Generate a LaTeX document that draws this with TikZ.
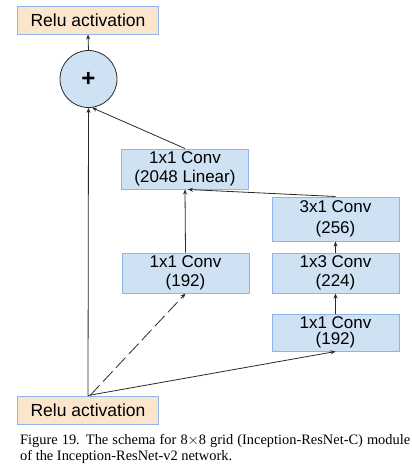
\documentclass[tikz,border=0pt]{standalone}
\usepackage{fontspec}
\setmainfont{Liberation Sans}
\newfontfamily\capfont{Liberation Serif}
\usetikzlibrary{arrows.meta}
\definecolor{boxblue}{HTML}{CFE2F3}
\definecolor{boxedge}{HTML}{8FB4EC}
\definecolor{peach}{HTML}{FCE5CD}
\definecolor{linegray}{HTML}{2A2A2A}
\tikzset{
  convbox/.style={draw=boxedge, line width=1pt, fill=boxblue, minimum width=127pt, align=center, inner sep=0pt, font=\fontsize{17}{19}\selectfont},
  relubox/.style={draw=boxedge, line width=1pt, fill=peach, minimum width=141pt, minimum height=28pt, inner sep=0pt, font=\fontsize{17.5}{19}\selectfont},
  sumnode/.style={circle, draw=linegray, line width=0.8pt, fill=boxblue, minimum size=57pt, inner sep=0pt, font=\fontsize{24}{24}\selectfont\bfseries},
  conn/.style={draw=linegray, line width=0.8pt, -{Stealth[length=5pt,width=4pt]}},
}
\begin{document}
\begin{tikzpicture}[x=1pt,y=-1pt]
\useasboundingbox (0,0) rectangle (412,466);
\node[relubox] (toprelu) at (88,20) {Relu activation};
\node[sumnode] (plus) at (88.5,79) {+};
\node[convbox, minimum height=40pt] (lin) at (185,169) {1x1 Conv\\(2048 Linear)};
\node[convbox, minimum height=44pt, font=\fontsize{17}{21}\selectfont] (c31) at (335.5,219) {3x1 Conv\\(256)};
\node[convbox, minimum height=40pt] (c13) at (335.5,273) {1x3 Conv\\(224)};
\node[convbox, minimum height=37pt, font=\fontsize{17}{16}\selectfont] (c11r) at (335.5,332.5) {1x1 Conv\\(192)};
\node[convbox, minimum height=40pt] (c11m) at (185.5,273) {1x1 Conv\\(192)};
\node[relubox] (botrelu) at (88,410) {Relu activation};
\node[anchor=north west, text width=390pt, align=justify, inner sep=0pt, font=\capfont\fontsize{14.4}{16}\selectfont] (cap) at (20,434)
  {Figure 19. The schema for 8$\times$8 grid (Inception-ResNet-C) module of the Inception-ResNet-v2 network.};
\draw[conn] (plus.north) -- (toprelu.south);
\draw[conn] (botrelu.north) -- (plus.south);
\draw[conn] (lin.north) -- (plus.-83);
\draw[conn] (c11m.north) -- (lin.south);
\draw[conn] (c31.north) -- ([xshift=3pt]lin.south);
\draw[conn] (c13.north) -- (c31.south);
\draw[conn] (c11r.north) -- (c13.south);
\draw[conn] (botrelu.north) -- (c11r.south);
\draw[conn, dash pattern=on 14pt off 5pt] ([xshift=2pt]botrelu.north) -- (c11m.south);
\end{tikzpicture}
\end{document}
